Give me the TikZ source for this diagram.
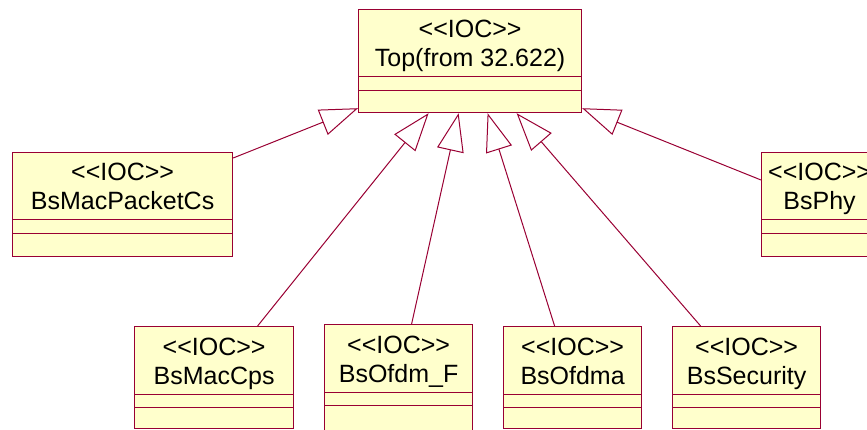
\documentclass[tikz,border=0pt]{standalone}
\usepackage{fontspec}
\setmainfont{Liberation Sans}
\usetikzlibrary{arrows.meta}
\definecolor{umlline}{HTML}{990033}
\definecolor{umlfill}{HTML}{FFFFCC}
\newcommand{\ioc}{<\kern0pt<IOC>\kern0pt>}
\begin{document}
\begin{tikzpicture}[x=1pt, y=-1pt,
  cls/.style={draw=umlline, fill=umlfill, line width=1.2pt, inner sep=0pt, anchor=north west},
  ctext/.style={anchor=base, inner sep=0pt, font=\fontsize{25}{29}\selectfont},
  cline/.style={draw=umlline, line width=1pt},
  gen/.style={-{Triangle[open, length=38pt, width=27pt]}, draw=umlline, line width=1pt}
]
\useasboundingbox (0,0) rectangle (867,430);
\clip (0,0) rectangle (867,430);
\foreach \n/\x/\y/\w/\h/\t in {
    top/358/9/223/103/{Top(from 32.622)},
    mpc/12/152/220/104/{BsMacPacketCs},
    phy/761/152/116/104/{BsPhy},
    cps/134/326/159/102/{BsMacCps},
    ofdmf/324/324/148/108/{BsOfdm\_F},
    ofdma/503/326/138/102/{BsOfdma},
    sec/672/326/148/102/{BsSecurity}} {
  \node[cls, minimum width=\w, minimum height=\h] (\n) at (\x,\y) {};
  \node[ctext] at ([yshift=-29pt]\n.north) {\ioc};
  \node[ctext] at ([yshift=-58pt]\n.north) {\t};
  \draw[cline] ([yshift=-68pt]\n.north west) -- ([yshift=-68pt]\n.north east)
    ([yshift=-81.5pt]\n.north west) -- ([yshift=-81.5pt]\n.north east);
}
% generalisations
\draw[gen] ([yshift=-6pt]mpc.north east) -- ([yshift=5pt]top.south west);
\draw[gen] ([xshift=43.5pt]cps.north) -- ([xshift=-41.5pt]top.south);
\draw[gen] ([xshift=13pt]ofdmf.north) -- ([xshift=-11.5pt]top.south);
\draw[gen] ([xshift=-18pt]ofdma.north) -- ([xshift=17.5pt]top.south);
\draw[gen] ([xshift=-46pt]sec.north) -- ([xshift=46.5pt]top.south);
\draw[gen] ([yshift=-28pt]phy.north west) -- ([yshift=5pt]top.south east);
\end{tikzpicture}
\end{document}
